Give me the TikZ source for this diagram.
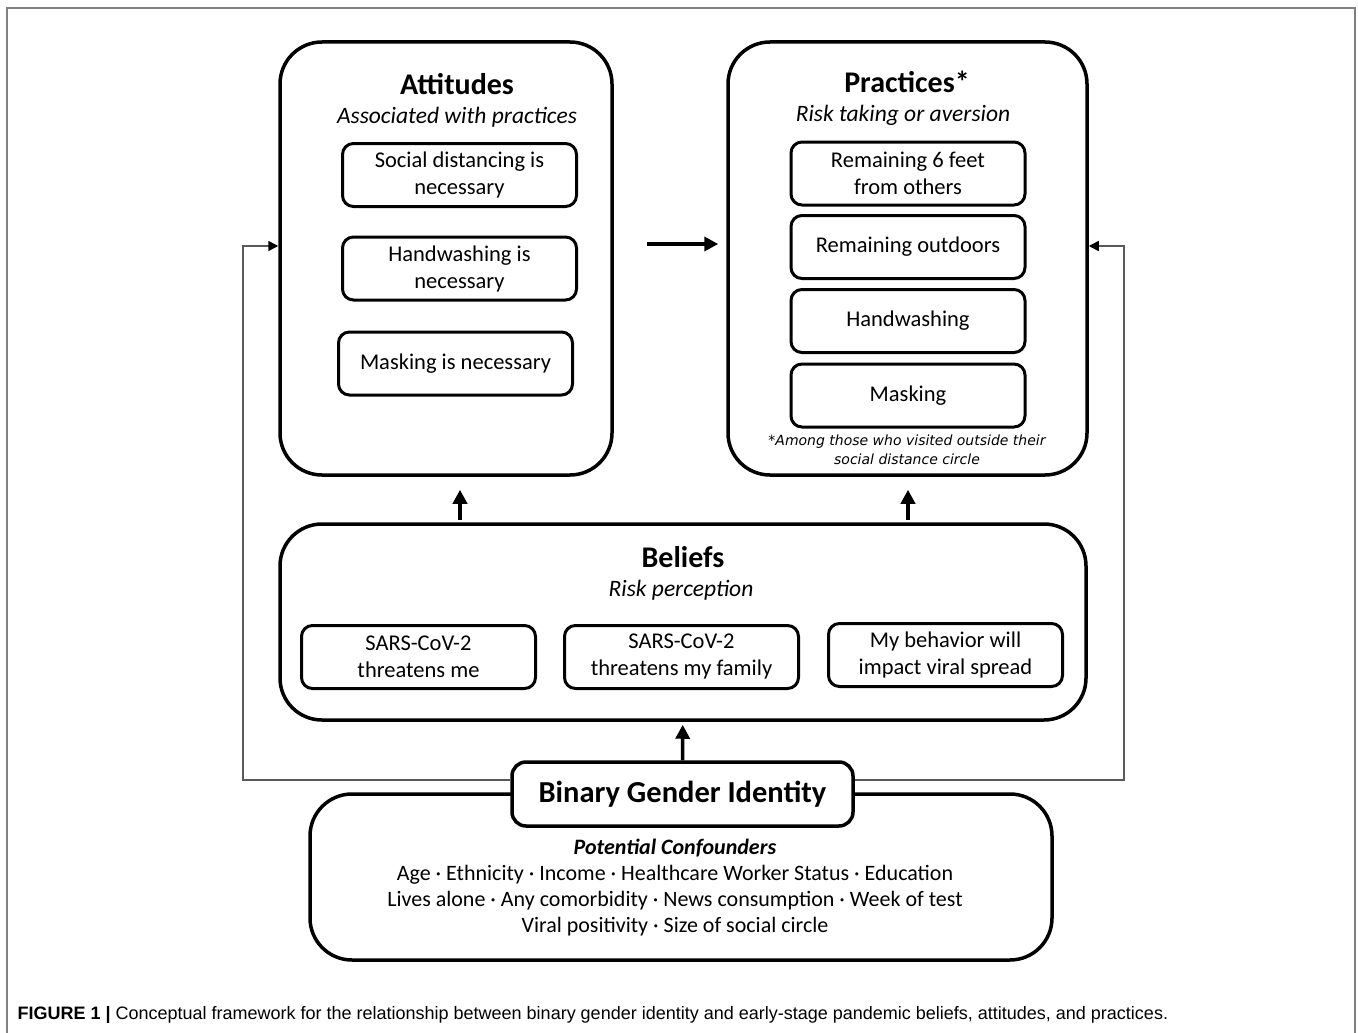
\documentclass[tikz,border=0pt]{standalone}
\usepackage{fontspec}
\setmainfont{Carlito}
\newfontfamily\notefont{DejaVu Sans}
\newfontfamily\capfont{Liberation Sans}
\usetikzlibrary{arrows.meta}

\tikzset{
	bigbox/.style={draw, line width=3.5pt, rounded corners=42pt, inner sep=0pt},
	smallbox/.style={draw, line width=3pt, rounded corners=11pt, align=center, inner sep=0pt,
		minimum width=234pt, minimum height=63pt, font=\fontsize{22.5}{27}\selectfont},
	boxtitle/.style={font=\fontsize{30}{32}\selectfont\bfseries},
	boxsub/.style={font=\fontsize{23.5}{26}\selectfont\itshape},
	arr/.style={line width=3.5pt, -{Triangle[length=14pt,width=14pt]}},
	fbarr/.style={draw=gray!70!black, line width=1.5pt, -{Triangle[length=10pt,width=10pt,color=black]}}
}

\begin{document}
\begin{tikzpicture}[x=1pt,y=-1pt]
	\useasboundingbox (0,0) rectangle (1358,1033);
	\draw [gray, line width=1.5pt] (7,1033) -- (7,8) -- (1355,8) -- (1355,1033);
	
	% attitudes
	\node [bigbox, minimum width=332pt, minimum height=433pt] (att) at (446,258.5) {};
	\node [boxtitle] (attT) at (457,84) {Attitudes};
	\node [boxsub] (attS) at (457,117) {Associated with practices};
	\node [smallbox] (att1) at (459.5,175) {Social distancing is\\necessary};
	\node [smallbox] (att2) at (459.5,268.5) {Handwashing is\\necessary};
	\node [smallbox] (att3) at (455.5,363.5) {Masking is necessary};
	
	% practices
	\node [bigbox, minimum width=359pt, minimum height=433pt] (prac) at (907.5,258.5) {};
	\node [boxtitle] (pracT) at (907,82) {Practices*};
	\node [boxsub] (pracS) at (903,115) {Risk taking or aversion};
	\node [smallbox] (prac1) at (908,173.5) {Remaining 6 feet\\from others};
	\node [smallbox] (prac2) at (908,247) {Remaining outdoors};
	\node [smallbox] (prac3) at (908,321) {Handwashing};
	\node [smallbox] (prac4) at (908,395.5) {Masking};
	\node [align=center, font=\notefont\fontsize{14}{19}\selectfont\itshape] (pracN) at (907,449.5)
		{*Among those who visited outside their\\social distance circle};
	
	% beliefs
	\node [bigbox, minimum width=806pt, minimum height=196pt] (bel) at (683,622) {};
	\node [boxtitle] (belT) at (683,557) {Beliefs};
	\node [boxsub] (belS) at (681,590) {Risk perception};
	\node [smallbox] (bel1) at (418.5,657) {SARS-CoV-2\\threatens me};
	\node [smallbox] (bel2) at (681.5,657) {SARS-CoV-2\\threatens my family};
	\node [smallbox] (bel3) at (945.5,655) {My behavior will\\impact viral spread};
	
	% confounders and gender
	\node [bigbox, minimum width=742pt, minimum height=166pt] (conf) at (681,877) {};
	\node [align=center, font=\fontsize{22}{26}\selectfont] (confT) at (675,888)
		{\textbf{\textit{Potential Confounders}}\\
		Age · Ethnicity · Income · Healthcare Worker Status · Education\\
		Lives alone · Any comorbidity · News consumption · Week of test\\
		Viral positivity · Size of social circle};
	\node [draw, fill=white, line width=3.5pt, rounded corners=14pt, minimum width=341pt, minimum height=64pt,
		font=\fontsize{30.5}{32}\selectfont\bfseries] (bgi) at (682.5,794) {Binary Gender Identity};
	
	\draw [arr, shorten <=33pt, shorten >=8pt] (att.east |- 0,244) -- (prac.west |- 0,244);
	\draw [arr, shorten <=2pt, shorten >=13pt] (bel.north -| 460,0) -- (att.south -| 460,0);
	\draw [arr, shorten <=2pt, shorten >=13pt] (bel.north -| 908,0) -- (prac.south -| 908,0);
	\draw [arr, shorten >=3pt] (bgi) -- (bel);
	
	\coordinate (fbL) at (243,780);
	\coordinate (fbR) at (1124,780);
	\draw [fbarr] (bgi.west |- fbL) -- (fbL) |- (att.west |- 0,246);
	\draw [fbarr] (bgi.east |- fbR) -- (fbR) |- (prac.east |- 0,246);
	
	\node [anchor=west, font=\capfont\fontsize{18}{20}\selectfont] (cap) at (14,1015)
		{\textbf{FIGURE 1 |} Conceptual framework for the relationship between binary gender identity and early-stage pandemic beliefs, attitudes, and practices.};
\end{tikzpicture}
\end{document}
